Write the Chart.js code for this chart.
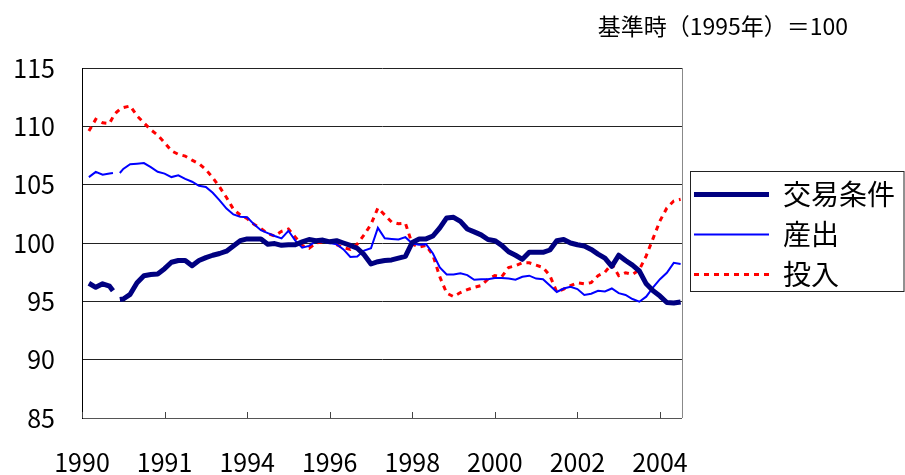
<!DOCTYPE html>
<html lang="ja">
<head>
<meta charset="utf-8">
<title>交易条件・産出・投入</title>
<script src="https://cdn.jsdelivr.net/npm/chart.js@4.4.1/dist/chart.umd.min.js"></script>
<style>
  body { margin: 0; background: #fff; }
  #wrap { width: 905px; height: 475px; }
</style>
</head>
<body>
<div id="wrap"><canvas id="chart" width="905" height="475"></canvas></div>
<script>
// months counted from Jan 1990 (x axis runs in months)
const months = [2,4,6,8,9,10,11,12,14,16,18,20,22,24,26,28,30,32,34,36,38,40,42,44,46,48,50,52,54,56,
  58,60,62,64,66,68,70,72,74,76,78,80,82,84,86,88,90,92,94,96,98,100,102,104,106,108,110,112,114,116,
  118,120,122,124,126,128,130,132,134,136,138,140,142,144,146,148,150,152,154,156,158,160,162,164,166,168,170,172,174];

// 交易条件
const tradeTerms = [96.55,96.2,96.5,96.3,95.9,null,95.15,95.2,95.6,96.6,
  97.2,97.3,97.35,97.8,98.35,98.5,98.5,98.05,98.5,98.75,
  98.95,99.1,99.3,99.75,100.2,100.35,100.35,100.35,99.9,99.95,
  99.8,99.85,99.85,100.1,100.3,100.2,100.25,100.1,100.2,100.0,
  99.8,99.55,99.0,98.2,98.4,98.5,98.55,98.7,98.85,100.05,
  100.35,100.35,100.6,101.3,102.15,102.2,101.85,101.2,100.95,100.7,
  100.3,100.2,99.8,99.25,98.95,98.6,99.2,99.2,99.2,99.4,
  100.2,100.3,100.0,99.85,99.75,99.45,99.05,98.7,98.0,98.95,
  98.5,98.1,97.6,96.5,95.9,95.45,94.9,94.85,94.95];

// 産出
const output = [105.65,106.1,105.85,105.95,106.0,null,106.0,106.35,106.75,106.8,
  106.85,106.5,106.1,105.95,105.65,105.8,105.5,105.25,104.9,104.8,
  104.3,103.65,102.95,102.45,102.25,102.2,101.6,101.1,100.85,100.6,
  100.4,101.05,100.2,99.6,99.75,100.15,100.1,100.0,99.9,99.45,
  98.8,98.85,99.35,99.55,101.3,100.4,100.35,100.3,100.5,99.95,
  99.85,99.9,99.1,97.9,97.3,97.3,97.4,97.25,96.85,96.9,
  96.9,97.0,97.0,96.95,96.85,97.1,97.2,96.95,96.9,96.35,
  95.8,96.1,96.25,96.05,95.55,95.65,95.9,95.85,96.1,95.7,
  95.55,95.2,94.97,95.4,96.2,96.9,97.45,98.3,98.2];

// 投入
const input = [109.6,110.6,110.3,110.25,110.8,111.2,111.45,111.6,111.75,110.9,
  110.3,109.7,109.25,108.6,107.9,107.6,107.45,107.1,106.8,106.3,
  105.6,104.8,103.9,102.9,102.4,102.1,101.6,101.25,100.8,100.6,
  101.0,101.2,100.5,99.8,99.55,100.0,100.1,100.15,99.85,99.6,
  99.45,99.9,100.7,101.6,103.0,102.4,101.8,101.65,101.7,99.9,
  99.65,99.8,98.95,97.1,95.7,95.4,95.75,96.0,96.2,96.35,
  96.9,97.2,97.1,97.9,98.05,98.3,98.3,98.1,97.9,97.2,
  95.8,96.05,96.35,96.6,96.5,96.6,97.2,97.5,98.2,97.2,
  97.45,97.3,97.7,98.9,100.4,101.9,103.0,103.6,103.75];

const tickLabels = ['1990','1991','1994','1996','1998','2000','2002','2004'];
const tickMonths = [0,24,48,72,96,120,144,168];
const seriesNames = ['交易条件','産出','投入'];
const baseNote = '基準時（1995年）＝100';

const FONT = "'Noto Sans CJK JP', 'Noto Sans', sans-serif";

function pts(vals) {
  return months.map((m, i) => ({x: m, y: vals[i]}));
}

// frame, inner tick marks, legend border and the base note
const decor = {
  id: 'decor',
  afterLayout(chart) {
    // lift the legend block up a bit, like the original
    chart.legend.top -= 37;
    chart.legend.bottom -= 37;
  },
  afterDatasetsDraw(chart) {
    const {ctx, chartArea: a, scales: {x}} = chart;
    ctx.save();
    ctx.lineWidth = 1;
    ctx.strokeStyle = '#888';
    ctx.beginPath();
    ctx.moveTo(a.right + 0.5, a.top);
    ctx.lineTo(a.right + 0.5, a.bottom);
    ctx.stroke();
    ctx.strokeStyle = '#444';
    ctx.beginPath();
    tickMonths.forEach(m => {
      const px = Math.round(x.getPixelForValue(m)) + 0.5;
      ctx.moveTo(px, a.bottom);
      ctx.lineTo(px, a.bottom - 6);
    });
    ctx.stroke();
    ctx.restore();
  },
  afterDraw(chart) {
    const {ctx, legend} = chart;
    const hb = legend.legendHitBoxes;
    ctx.save();
    if (hb && hb.length) {
      const top = Math.round(hb[0].top - 10) + 0.5;
      const last = hb[hb.length - 1];
      const bottom = Math.round(last.top + last.height + 2) + 0.5;
      const left = Math.round(legend.left + 8) + 0.5;
      ctx.strokeStyle = '#222';
      ctx.lineWidth = 1;
      ctx.strokeRect(left, top, 904 - left, bottom - top);
    }
    ctx.fillStyle = '#000';
    ctx.font = '23px ' + FONT;
    ctx.textAlign = 'right';
    ctx.textBaseline = 'middle';
    ctx.fillText(baseNote, 848, 26);
    ctx.restore();
  }
};

const ctx = document.getElementById('chart');
new Chart(ctx, {
  type: 'line',
  data: {
    datasets: [{
      label: seriesNames[0],
      data: pts(tradeTerms),
      borderColor: '#000080',
      backgroundColor: '#000080',
      borderWidth: 5,
      borderJoinStyle: 'round',
      pointRadius: 0,
      spanGaps: false
    }, {
      label: seriesNames[1],
      data: pts(output),
      borderColor: '#0000ff',
      backgroundColor: '#0000ff',
      borderWidth: 2,
      pointRadius: 0,
      spanGaps: false
    }, {
      label: seriesNames[2],
      data: pts(input),
      borderColor: '#ff0000',
      backgroundColor: '#ff0000',
      borderWidth: 3,
      borderDash: [5, 5],
      pointRadius: 0
    }]
  },
  options: {
    responsive: false,
    animation: false,
    layout: { padding: { top: 68, left: 0, right: 0, bottom: 0 } },
    plugins: {
      tooltip: { enabled: false },
      legend: {
        position: 'right',
        labels: {
          usePointStyle: true,
          pointStyle: 'line',
          pointStyleWidth: 75,
          boxWidth: 75,
          padding: 12,
          color: '#000',
          font: { family: FONT, size: 28, lineHeight: 1 },
          generateLabels(chart) {
            const items = Chart.defaults.plugins.legend.labels.generateLabels(chart);
            items.forEach(it => {
              const ds = chart.data.datasets[it.datasetIndex];
              it.lineDash = ds.borderDash || [];
              it.lineWidth = ds.borderWidth;
              it.strokeStyle = ds.borderColor;
            });
            return items;
          }
        }
      }
    },
    scales: {
      x: {
        type: 'linear',
        min: 0,
        max: 174.4,
        afterFit: s => { s.height = 57; },
        afterBuildTicks: s => { s.ticks = tickMonths.map(m => ({value: m})); },
        grid: { drawOnChartArea: false, drawTicks: false },
        border: { color: '#555', width: 1 },
        ticks: {
          autoSkip: false,
          maxRotation: 0,
          padding: 29,
          color: '#000',
          font: { family: FONT, size: 25 },
          callback: (v, i) => tickLabels[i]
        }
      },
      y: {
        min: 85,
        max: 115,
        afterFit: s => { s.width = 82; },
        grid: { color: '#222', drawTicks: false },
        border: { color: '#000', width: 1 },
        ticks: {
          stepSize: 5,
          padding: 27,
          color: '#000',
          font: { family: FONT, size: 25 }
        }
      }
    }
  },
  plugins: [decor]
});
</script>
</body>
</html>
